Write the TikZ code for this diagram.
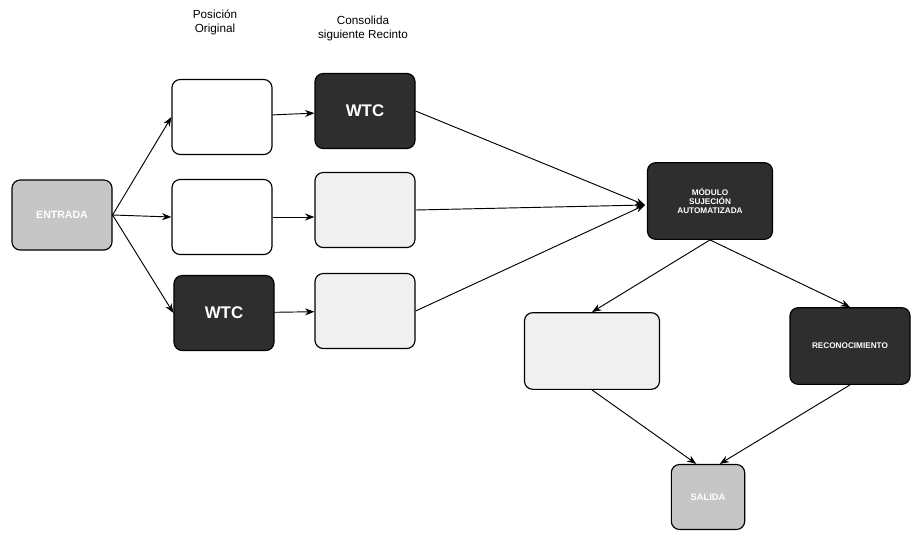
\documentclass[tikz,border=0pt]{standalone}
\usepackage{fontspec}
\setmainfont{Liberation Sans}
\usepackage{tikz}
\usetikzlibrary{arrows.meta}

\tikzset{
	caja/.style={draw, line width=1pt, rounded corners=7pt, minimum width=3cm, minimum height=2.25cm, inner sep=2pt},
	oscura/.style={caja, fill=black!82, text=white, font=\bfseries\Large},
	clara/.style={caja, fill=gray!12},
	media/.style={caja, fill=gray!45, text=white, font=\bfseries\small},
	flecha/.style={-{Stealth[length=8pt,width=6pt]}, line width=0.8pt}
}

\begin{document}
\begin{tikzpicture}[x=0.03cm, y=-0.03cm]
	
	\useasboundingbox (0,0) rectangle (912,546);
	
	\node[font=\normalsize, align=center] (tpos) at (215,22) {Posición\\Original};
	\node[font=\normalsize, align=center] (tcon) at (363,28) {Consolida\\siguiente Recinto};
	
	\node[media, minimum height=2.1cm] (entrada) at (62,215) {ENTRADA};
	
	\node[caja] (p1) at (222,117) {};
	\node[caja] (p2) at (222,217) {};
	\node[oscura] (p3) at (224,313) {WTC};
	
	\node[oscura] (c1) at (365,111) {WTC};
	\node[clara] (c2) at (365,210) {};
	\node[clara] (c3) at (365,311) {};
	
	\node[oscura, font=\bfseries\scriptsize, align=center, minimum width=3.75cm, minimum height=2.3cm] (modulo) at (710,201) {MÓDULO\\SUJECIÓN\\AUTOMATIZADA};
	\node[clara, minimum width=4.05cm, minimum height=2.3cm] (espera) at (592,351) {};
	\node[oscura, font=\bfseries\scriptsize, minimum width=3.6cm, minimum height=2.3cm] (recon) at (850,346) {RECONOCIMIENTO};
	\node[media, font=\bfseries\footnotesize, minimum width=2.2cm, minimum height=1.95cm] (salida) at (708,497) {SALIDA};
	
	\coordinate (m) at (645,205);
	
	\draw[flecha] (entrada.east) -- (p1.west);
	\draw[flecha] (entrada.east) -- (p2.west);
	\draw[flecha] (entrada.east) -- (p3.west);
	
	\draw[flecha] (p1) -- (c1);
	\draw[flecha] (p2) -- (p2 -| c2.west);
	\draw[flecha] (p3) -- (c3);
	
	\draw[flecha] (c1.east) -- (m);
	\draw[flecha] (c2.east) -- (m);
	\draw[flecha] (c3.east) -- (m);
	
	\draw[flecha] (modulo.south) -- (espera.north);
	\draw[flecha] (modulo.south) -- (recon.north);
	\draw[flecha] (espera.south) -- ([xshift=-10pt]salida.north);
	\draw[flecha] (recon.south) -- ([xshift=10pt]salida.north);
	
\end{tikzpicture}
\end{document}
